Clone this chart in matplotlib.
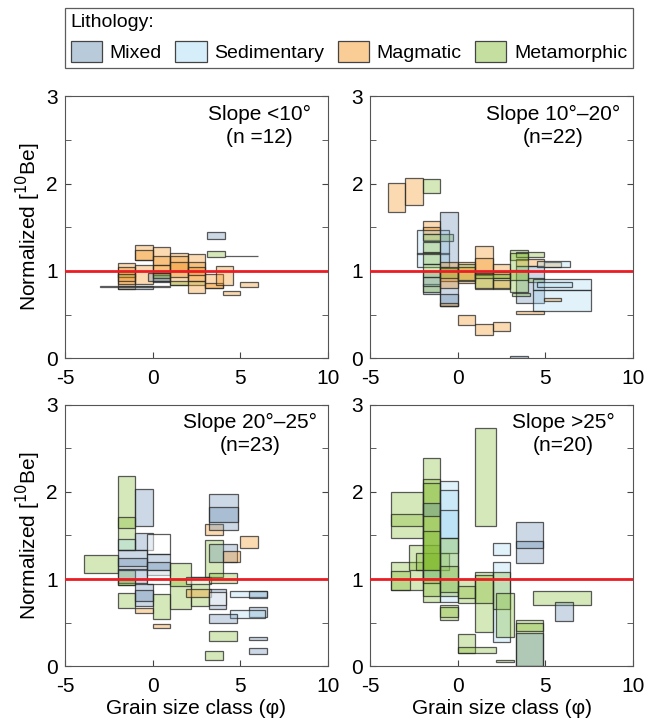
import matplotlib
matplotlib.use("Agg")
import matplotlib.pyplot as plt
from matplotlib.patches import Patch
from matplotlib.colors import to_rgba

plt.rcParams['font.family'] = ['Liberation Sans', 'DejaVu Sans']
plt.rcParams['axes.unicode_minus'] = False

# colores de cada litologia
colores = {'mix': '#648bb1', 'sed': '#a4d9f4', 'mag': '#f49016', 'met': '#80ba2c', 'none': '#ffffff'}
nombres = ['Mixed', 'Sedimentary', 'Magmatic', 'Metamorphic']
claves = ['mix', 'sed', 'mag', 'met']

titulos = ['Slope <10°\n(n =12)', 'Slope 10°–20°\n(n=22)',
           'Slope 20°–25°\n(n=23)', 'Slope >25°\n(n=20)']

# cajas: (phi min, phi max, conc min, conc max, litologia)
slope_lt10 = [
    (-2, -1, 0.79, 1.09, 'mag'), (-2, -1, 0.85, 1.05, 'mag'), (-2, -1, 0.93, 1.00, 'met'),
    (-2, -1, 0.88, 0.97, 'mag'), (-1, 0, 0.85, 1.07, 'mag'), (-1, 0, 1.13, 1.30, 'mag'),
    (-1, 0, 1.13, 1.24, 'mag'), (-2, 0, 0.79, 0.83, 'mix'), (-3, 1, 0.815, 0.825, 'none'),
    (0, 1, 1.07, 1.27, 'mag'), (0, 1, 0.95, 1.17, 'mag'), (0, 1, 0.88, 1.07, 'mag'),
    (0, 1, 0.87, 0.95, 'mix'), (-0.25, 1, 0.88, 0.98, 'mix'), (0, 1, 0.92, 0.98, 'met'),
    (1, 2, 0.84, 1.21, 'mag'), (1, 2, 0.93, 1.17, 'mag'), (1, 2, 1.00, 1.10, 'mag'),
    (1, 3, 0.84, 0.89, 'met'), (2, 3, 0.75, 1.19, 'mag'), (2, 3, 0.88, 1.10, 'mag'),
    (2, 3, 0.95, 1.05, 'mag'), (3, 4, 0.80, 0.97, 'mag'), (3, 4, 0.80, 0.86, 'mag'),
    (3.6, 4.6, 0.84, 1.06, 'mag'), (4, 5, 0.72, 0.77, 'mag'), (5, 6, 0.81, 0.87, 'mag'),
    (3.1, 4.1, 1.37, 1.45, 'mix'), (3.1, 4.1, 1.16, 1.23, 'met'), (4.1, 6, 1.17, 1.175, 'none'),
]

slope_10_20 = [
    (-4, -3, 1.67, 2.01, 'mag'), (-3, -2, 1.75, 2.06, 'mag'), (-2, -1, 1.89, 2.05, 'met'),
    (-2, -1, 1.42, 1.57, 'mag'), (-2, -1, 1.35, 1.50, 'mag'), (-2.3, -0.5, 1.05, 1.47, 'sed'),
    (-2, -0.25, 1.34, 1.42, 'met'), (-2, -1, 1.21, 1.33, 'met'), (-2, -1, 1.08, 1.22, 'met'),
    (-2.3, -0.5, 1.19, 1.21, 'none'), (-1, 0, 0.60, 1.67, 'mix'), (-1, 0, 0.60, 0.74, 'mix'),
    (-1, 0, 0.60, 0.63, 'mag'), (-2, -1, 0.74, 0.85, 'mix'), (-2, -1, 0.76, 0.93, 'met'),
    (-2, -1, 0.83, 1.00, 'mix'), (-2, -1, 0.93, 1.08, 'met'), (-1, 0, 0.88, 1.10, 'mag'),
    (-1, 0, 0.80, 1.03, 'mag'), (-1, 0, 0.92, 1.05, 'met'), (0, 1, 0.86, 1.10, 'mag'),
    (0, 1, 0.88, 1.08, 'met'), (0, 1, 0.90, 1.05, 'mag'), (1, 2, 0.79, 1.29, 'mag'),
    (1, 2, 0.95, 1.15, 'mag'), (1, 2, 0.80, 0.98, 'met'), (2, 3, 0.92, 1.08, 'mag'),
    (2, 3, 0.79, 0.99, 'met'), (2, 3, 0.80, 0.90, 'mag'), (1, 3, 0.92, 0.96, 'met'),
    (0, 1, 0.38, 0.49, 'mag'), (1, 2, 0.27, 0.39, 'mag'), (2, 3, 0.31, 0.42, 'mag'),
    (3, 4, 1.13, 1.24, 'met'), (3.3, 4.9, 1.16, 1.22, 'met'), (3.3, 4.9, 1.06, 1.14, 'mag'),
    (3.3, 4.9, 0.63, 1.06, 'mix'), (3, 4, 0.76, 1.01, 'met'), (3, 4, 0.90, 1.20, 'met'),
    (4, 4.9, 0.87, 0.92, 'met'), (4.9, 5.9, 1.04, 1.10, 'mag'), (4.5, 6.4, 1.04, 1.11, 'sed'),
    (4.3, 7.6, 0.78, 0.91, 'sed'), (4.3, 7.6, 0.54, 0.78, 'sed'), (4.5, 6.5, 0.82, 0.87, 'sed'),
    (4.9, 5.9, 0.65, 0.69, 'mag'), (3.1, 4.1, 0.71, 0.75, 'met'), (3.3, 4.9, 0.51, 0.54, 'mag'),
    (3, 4, 0.0, 0.02, 'mix'),
]

slope_20_25 = [
    (-2, -1, 1.33, 2.18, 'met'), (-2, -1, 1.59, 1.71, 'met'), (-2, -1, 1.33, 1.46, 'sed'),
    (-1, 0, 1.61, 2.03, 'mix'), (-1, 0, 1.33, 1.53, 'mix'), (-0.3, 1, 1.29, 1.52, 'none'),
    (-3.9, -2, 1.07, 1.28, 'met'), (-2, -0.3, 1.10, 1.33, 'mix'), (-2, -0.3, 1.15, 1.24, 'mix'),
    (-2, -1, 0.93, 1.10, 'met'), (-2, -0.3, 0.95, 1.12, 'mix'), (-2, -1, 0.93, 1.00, 'met'),
    (-0.3, 1, 1.10, 1.29, 'mix'), (-0.3, 1, 1.05, 1.20, 'mix'), (-0.3, 1, 0.94, 1.10, 'none'),
    (1, 2.2, 0.66, 1.18, 'met'), (1, 2.2, 0.92, 1.00, 'met'), (-2, -1, 0.67, 0.84, 'met'),
    (-1, 0, 0.69, 0.94, 'mix'), (-1, 0, 0.75, 0.88, 'mix'), (-1, 0, 0.61, 0.67, 'mag'),
    (0, 1, 0.54, 0.83, 'met'), (0, 1, 0.44, 0.49, 'mag'), (2.2, 3.2, 0.69, 1.02, 'met'),
    (1.9, 3.3, 0.79, 0.89, 'mag'), (1.9, 3.3, 0.94, 1.02, 'none'), (3, 4, 1.50, 1.63, 'mag'),
    (3.2, 4.85, 1.56, 1.98, 'mix'), (3.2, 4.85, 1.65, 1.83, 'mix'), (5, 6, 1.36, 1.49, 'mag'),
    (3, 4, 1.02, 1.45, 'met'), (3.2, 4.8, 1.20, 1.40, 'mix'), (4, 5, 1.20, 1.32, 'mag'),
    (3.2, 4.8, 0.95, 1.07, 'met'), (3.2, 4.2, 0.66, 0.89, 'mix'), (3.2, 4.2, 0.70, 0.85, 'none'),
    (4.4, 6.5, 0.79, 0.86, 'sed'), (5.5, 6.5, 0.78, 0.86, 'mix'), (5.5, 6.5, 0.56, 0.68, 'mix'),
    (4.4, 6.4, 0.55, 0.64, 'sed'), (3.2, 4.8, 0.50, 0.60, 'mix'), (3.2, 4.8, 0.29, 0.40, 'met'),
    (5.5, 6.5, 0.30, 0.33, 'mix'), (5.5, 6.5, 0.14, 0.21, 'mix'), (3, 4, 0.07, 0.18, 'met'),
]

slope_gt25 = [
    (-3.8, -2, 1.47, 2.00, 'met'), (-3.8, -2, 1.61, 1.74, 'met'), (-3.8, -2, 0.88, 1.19, 'met'),
    (-3.8, -2.7, 0.88, 1.09, 'met'), (-2.75, -1, 1.10, 1.39, 'met'), (-2.35, -0.5, 1.10, 1.30, 'met'),
    (-2, -1, 0.74, 2.39, 'met'), (-2, -1, 0.80, 2.15, 'met'), (-2, -1, 1.00, 2.10, 'met'),
    (-2, -1, 1.72, 1.87, 'mix'), (-2, -1, 0.95, 1.55, 'met'), (-2, -1, 1.00, 1.10, 'sed'),
    (-1, 0, 0.74, 2.12, 'sed'), (-1, 0, 1.30, 2.02, 'sed'), (-1, 0, 1.47, 1.79, 'sed'),
    (-1, 0, 0.80, 1.47, 'met'), (-1, 0, 0.85, 1.15, 'met'), (-1, 0, 0.53, 0.70, 'met'),
    (-1, 0, 0.57, 0.68, 'met'), (0, 1, 0.72, 1.00, 'met'), (0, 1, 0.78, 0.92, 'met'),
    (1, 2, 0.39, 1.08, 'met'), (1, 2, 0.72, 1.05, 'met'), (1, 2.2, 1.61, 2.73, 'met'),
    (2, 3, 1.27, 1.41, 'sed'), (2, 3, 0.28, 1.19, 'sed'), (2, 3, 0.66, 1.08, 'met'),
    (2.2, 3.2, 0.34, 0.84, 'met'), (0, 1, 0.15, 0.37, 'met'), (0, 2.2, 0.15, 0.22, 'met'),
    (2.2, 3.2, 0.05, 0.07, 'met'), (3.3, 4.85, 1.18, 1.65, 'mix'), (3.3, 4.85, 1.36, 1.44, 'mix'),
    (4.3, 7.6, 0.70, 0.86, 'met'), (5.55, 6.6, 0.52, 0.74, 'mix'), (3.3, 4.85, 0.0, 0.53, 'met'),
    (3.3, 4.85, 0.0, 0.38, 'mix'), (3.3, 4.85, 0.40, 0.50, 'met'),
]

paneles = [slope_lt10, slope_10_20, slope_20_25, slope_gt25]

# posicion de los ejes (fraccion de la figura)
pos = [[0.099, 0.506, 0.401, 0.361], [0.564, 0.506, 0.401, 0.361],
       [0.099, 0.081, 0.401, 0.361], [0.564, 0.081, 0.401, 0.361]]
xtexto = [6.1, 5.45, 5.55, 6.0]

fig = plt.figure(figsize=(6.56, 7.25), dpi=100)
for i in range(4):
    ax = fig.add_axes(pos[i])
    for x0, x1, y0, y1, lit in paneles[i]:
        fc = to_rgba(colores[lit], 0.5 if lit == 'none' else 0.33)
        ax.bar(x0, y1 - y0, width=x1 - x0, bottom=y0, align='edge',
               facecolor=fc, edgecolor=(0.15, 0.15, 0.15, 0.75), linewidth=0.9)
    ax.axhline(1, color='#ec1c24', lw=2, zorder=10)
    ax.set_xlim(-5, 10)
    ax.set_ylim(0, 3)
    ax.set_xticks([-5, 0, 5, 10])
    ax.set_yticks([0, 1, 2, 3])
    ax.set_yticks([0.5, 1.5, 2.5], minor=True)
    ax.tick_params(which='both', direction='in', right=True, labelsize=15, length=4, color='#444444')
    ax.tick_params(axis='x', pad=8)
    ax.tick_params(axis='y', pad=5)
    for s in ax.spines.values():
        s.set_color('#555555')
        s.set_linewidth(0.8)
    ax.text(xtexto[i], 2.9, titulos[i], ha='center', va='top', multialignment='center',
            fontsize=15, linespacing=1.25)
    if i in (0, 2):
        ax.set_ylabel(r'Normalized [$^{10}$Be]', fontsize=15, labelpad=2)
    if i in (2, 3):
        ax.set_xlabel('Grain size class (φ)', fontsize=15, labelpad=2)

# leyenda
manijas = [Patch(facecolor=to_rgba(colores[k], 0.45), edgecolor='#444444', linewidth=0.9) for k in claves]
leg = fig.legend(manijas, nombres, loc='upper left', ncol=4, mode='expand',
                 bbox_to_anchor=(0.099, 0.901, 0.866, 0.088), title='Lithology:', alignment='left',
                 fontsize=14, title_fontsize=14, fancybox=False, edgecolor='#333333',
                 handlelength=1.6, handleheight=1.3, handletextpad=0.4, columnspacing=0.5,
                 borderaxespad=0.0, borderpad=0.3)
leg.get_frame().set_linewidth(0.9)

fig.savefig('out.png', dpi=100)
